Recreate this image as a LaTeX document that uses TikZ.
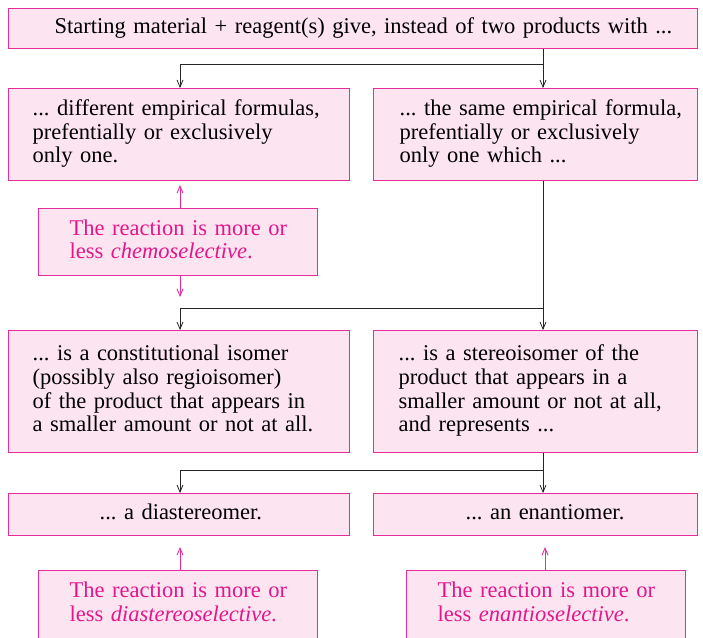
\documentclass[tikz,border=0pt]{standalone}
\usepackage{fontspec}
\setmainfont{Liberation Serif}
\usetikzlibrary{arrows.meta}
\definecolor{boxfill}{HTML}{FDE4F1}
\definecolor{boxline}{HTML}{E62E9A}
\definecolor{pinktext}{HTML}{E3168A}
\newcommand\boxlines[1]{\begin{tabular}{@{}l@{}}#1\end{tabular}}
\begin{document}
\frenchspacing
\begin{tikzpicture}[x=1pt,y=-1pt,
  box/.style={draw=boxline, fill=boxfill, line width=1.3pt, anchor=north west, inner ysep=0pt,
    align=left, font=\fontsize{22.5}{23.6}\selectfont},
  pbox/.style={box, text=pinktext},
  conn/.style={line width=0.8pt, black!85},
  tip/.style={-{Straight Barb[length=7pt,width=6pt]}},
  pconn/.style={line width=0.9pt, boxline, -{Straight Barb[length=7pt,width=6pt]}}
]
\useasboundingbox (0,0) rectangle (703,637);
\fill[white] (0,0) rectangle (703,637);

\node[box, inner xsep=46pt, text width=597pt, minimum height=40pt] (top) at (8,8)
  {\boxlines{Starting material + reagent(s) give, instead of two products with ...}};

\node[box, inner xsep=24pt, text width=293pt, minimum height=92pt] (L1) at (8,88)
  {\boxlines{... different empirical formulas,\\ prefentially or exclusively\\ only one.}};
\node[box, inner xsep=26pt, text width=272pt, minimum height=92pt] (R1) at (373,88)
  {\boxlines{... the same empirical formula,\\ prefentially or exclusively\\ only one which ...}};

\node[pbox, inner xsep=31pt, text width=217pt, minimum height=67pt] (chem) at (38,208)
  {\boxlines{The reaction is more or\\ less \textit{chemoselective}.}};

\node[box, inner xsep=24pt, text width=293pt, minimum height=122pt] (L2) at (8,330)
  {\boxlines{... is a constitutional isomer\\ (possibly also regioisomer)\\ of the product that appears in\\ a smaller amount or not at all.}};
\node[box, inner xsep=25pt, text width=274pt, minimum height=122pt] (R2) at (373,330)
  {\boxlines{... is a stereoisomer of the\\ product that appears in a\\ smaller amount or not at all,\\ and represents ...}};

\node[box, inner xsep=91pt, text width=159pt, minimum height=42pt] (L3) at (8,493)
  {\boxlines{... a diastereomer.}};
\node[box, inner xsep=92pt, text width=140pt, minimum height=42pt] (R3) at (373,493)
  {\boxlines{... an enantiomer.}};

\node[pbox, inner xsep=31pt, text width=217pt, minimum height=68pt] (dia) at (38,570)
  {\boxlines{The reaction is more or\\ less \textit{diastereoselective}.}};
\node[pbox, inner xsep=31pt, text width=217pt, minimum height=68pt] (ena) at (406,570)
  {\boxlines{The reaction is more or\\ less \textit{enantioselective}.}};

% connector joints and free ends
\coordinate (j1r) at (543,64);
\coordinate (j1l) at (180,64);
\coordinate (j2r) at (543,308);
\coordinate (j2l) at (180,308);
\coordinate (j3r) at (543,470);
\coordinate (j3l) at (180,470);
\coordinate (pc1) at (180,185);
\coordinate (pc2) at (180,297);
\coordinate (pd) at (180,547);
\coordinate (pe) at (545,547);

% black connectors
\draw[conn, tip] (top.south -| j1r) -- (R1.north -| j1r);
\draw[conn, tip] (j1r) -- (j1l) -- (L1.north -| j1l);
\draw[conn, tip] (R1.south -| j2r) -- (R2.north -| j2r);
\draw[conn, tip] (j2r) -- (j2l) -- (L2.north -| j2l);
\draw[conn, tip] (R2.south -| j3r) -- (R3.north -| j3r);
\draw[conn, tip] (j3r) -- (j3l) -- (L3.north -| j3l);

% pink connectors
\draw[pconn] (chem.north -| pc1) -- (pc1);
\draw[pconn] (chem.south -| pc2) -- (pc2);
\draw[pconn] (dia.north -| pd) -- (pd);
\draw[pconn] (ena.north -| pe) -- (pe);
\end{tikzpicture}
\end{document}
